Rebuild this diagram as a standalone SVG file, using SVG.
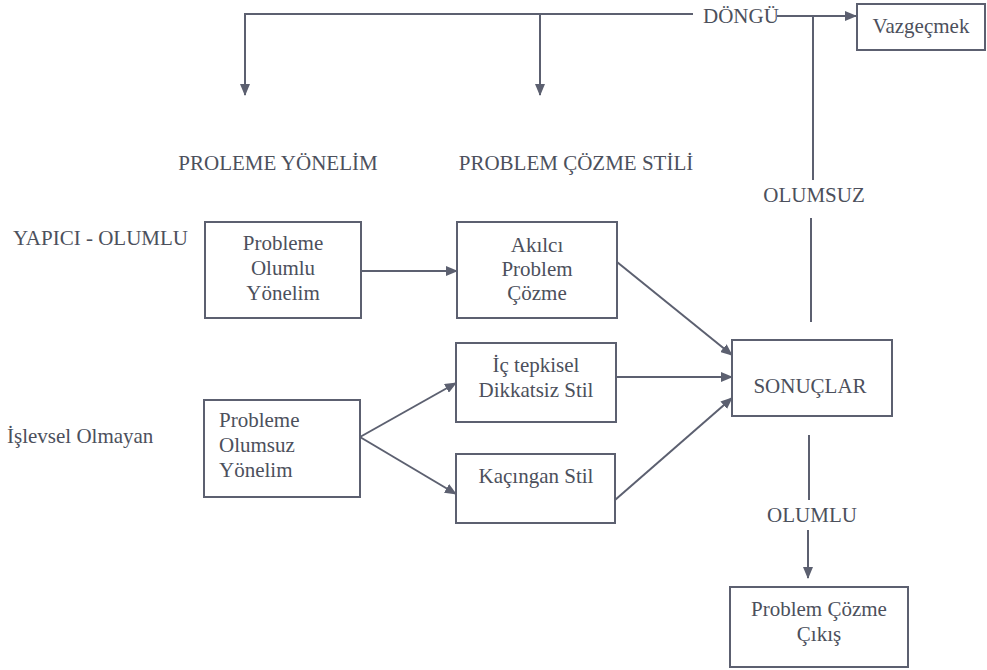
<svg xmlns="http://www.w3.org/2000/svg" width="987" height="670" viewBox="0 0 987 670">
<defs>
<marker id="ah" markerUnits="userSpaceOnUse" markerWidth="12" markerHeight="10" refX="11" refY="5" orient="auto">
<path d="M0,0 L12,5 L0,10 Z" fill="#5c6070"/>
</marker>
<style>
text{font-family:'Liberation Serif','Times New Roman',Times,serif;font-size:21px;fill:#4c505c}
.m{text-anchor:middle}
.b{fill:none;stroke:#5c6070;stroke-width:2}
.c{fill:none;stroke:#5c6070;stroke-width:2}
.a{marker-end:url(#ah)}
</style>
</defs>
<rect width="987" height="670" fill="#ffffff"/>

<g id="labels" font-family="Liberation Serif, Times New Roman, serif">
<text x="703" y="23">DÖNGÜ</text>
<text class="m" x="278" y="170">PROLEME YÖNELİM</text>
<text class="m" x="576" y="170">PROBLEM ÇÖZME STİLİ</text>
<text class="m" x="814" y="202">OLUMSUZ</text>
<text x="13" y="245">YAPICI - OLUMLU</text>
<text x="7" y="443">İşlevsel Olmayan</text>
<text class="m" x="812" y="522">OLUMLU</text>
</g>

<g id="connectors">
<polyline class="c a" points="693,14 245,14 245,95"/>
<line class="c a" x1="540" y1="14" x2="540" y2="95"/>
<line class="c a" x1="777" y1="16" x2="856" y2="16"/>
<line class="c" x1="813" y1="16" x2="813" y2="180"/>
<line class="c" x1="811" y1="218" x2="811" y2="322"/>
<line class="c a" x1="361" y1="271" x2="457" y2="271"/>
<line class="c a" x1="360" y1="437" x2="456" y2="383"/>
<line class="c a" x1="360" y1="437" x2="456" y2="494"/>
<line class="c a" x1="617" y1="262" x2="732" y2="355"/>
<line class="c a" x1="616" y1="377" x2="732" y2="377"/>
<line class="c a" x1="615" y1="500" x2="732" y2="398"/>
<line class="c" x1="809" y1="435" x2="809" y2="500"/>
<line class="c a" x1="808" y1="530" x2="808" y2="578"/>
</g>

<g id="vazgecmek">
<rect class="b" x="857" y="4" width="128" height="46"/>
<text class="m" x="921" y="33">Vazgeçmek</text>
</g>

<g id="olumlu-yonelim">
<rect class="b" x="205" y="222" width="156" height="96"/>
<text class="m" x="283" y="250">Probleme</text>
<text class="m" x="283" y="275">Olumlu</text>
<text class="m" x="283" y="300">Yönelim</text>
</g>

<g id="akilci">
<rect class="b" x="457" y="222" width="160" height="96"/>
<text class="m" x="537" y="252">Akılcı</text>
<text class="m" x="537" y="276">Problem</text>
<text class="m" x="537" y="300">Çözme</text>
</g>

<g id="ic-tepkisel">
<rect class="b" x="456" y="343" width="160" height="79"/>
<text class="m" x="536" y="372">İç tepkisel</text>
<text class="m" x="536" y="397">Dikkatsiz Stil</text>
</g>

<g id="kacingan">
<rect class="b" x="456" y="454" width="159" height="69"/>
<text class="m" x="536" y="483">Kaçıngan Stil</text>
</g>

<g id="olumsuz-yonelim">
<rect class="b" x="204" y="400" width="156" height="97"/>
<text x="219" y="427">Probleme</text>
<text x="219" y="452">Olumsuz</text>
<text x="219" y="477">Yönelim</text>
</g>

<g id="sonuclar">
<rect class="b" x="732" y="340" width="160" height="76"/>
<text class="m" x="810" y="393">SONUÇLAR</text>
</g>

<g id="cikis">
<rect class="b" x="730" y="587" width="178" height="80"/>
<text class="m" x="819" y="616">Problem Çözme</text>
<text class="m" x="819" y="641">Çıkış</text>
</g>
</svg>
